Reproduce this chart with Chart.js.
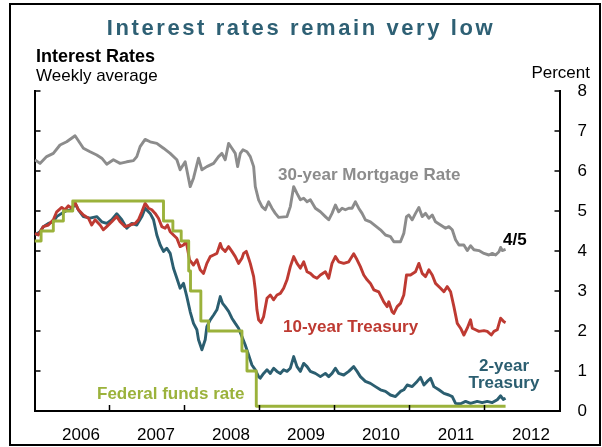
<!DOCTYPE html>
<html>
<head>
<meta charset="utf-8">
<script src="https://cdn.jsdelivr.net/npm/chart.js@4.4.1/dist/chart.umd.min.js"></script>
<style>
body { margin: 0; background: #fff; }
#wrap { position: relative; width: 602px; height: 447px; overflow: hidden; font-family: "Liberation Sans", Arial, sans-serif; }
#c { position: absolute; left: 0; top: 0; }
#frame { position: absolute; left: 9px; top: 3px; width: 588px; height: 439px; border: 2px solid #000; }
.t { position: absolute; white-space: nowrap; font-size: 17px; line-height: 17px; font-weight: bold; }
</style>
</head>
<body>
<div id="wrap">
  <canvas id="c" width="602" height="447"></canvas>
  <div id="frame"></div>
  <div class="t" style="left:0;width:602px;text-align:center;top:17px;font-size:22px;line-height:22px;letter-spacing:2.6px;color:#2E6074;">Interest rates remain very low</div>
  <div class="t" style="left:36px;top:47px;font-size:18px;line-height:18px;color:#000;">Interest Rates</div>
  <div class="t" style="left:36px;top:67px;font-weight:normal;color:#000;">Weekly average</div>
  <div class="t" style="right:12px;top:64px;font-weight:normal;color:#000;">Percent</div>
  <div class="t" style="left:278px;top:166px;color:#8C8C8C;">30-year Mortgage Rate</div>
  <div class="t" style="left:283px;top:318px;color:#BE3A32;">10-year Treasury</div>
  <div class="t" style="left:464px;width:80px;text-align:center;top:358px;line-height:16.5px;color:#2B5E70;">2-year<br>Treasury</div>
  <div class="t" style="left:97px;top:385px;color:#9BB23B;">Federal funds rate</div>
  <div class="t" style="left:503px;top:231px;color:#000;">4/5</div>
</div>
<script>
// x axis: decimal years, tick at each Jan 1, label sits inside the year
var yearTicks = [2006, 2007, 2008, 2009, 2010, 2011, 2012, 2013];
var yearLabels = ['2006', '2007', '2008', '2009', '2010', '2011', '2012', ''];
var percentTicks = [0, 1, 2, 3, 4, 5, 6, 7, 8];

// 30-year mortgage rate
var mortX = [2006.007,2006.073,2006.162,2006.251,2006.340,2006.429,2006.541,2006.652,2006.741,2006.830,
  2006.897,2006.963,2007.052,2007.141,2007.230,2007.319,2007.364,2007.408,2007.475,2007.542,
  2007.631,2007.720,2007.809,2007.898,2007.942,2008.009,2008.076,2008.120,2008.187,2008.232,
  2008.298,2008.388,2008.454,2008.499,2008.543,2008.588,2008.632,2008.677,2008.708,2008.744,
  2008.779,2008.833,2008.877,2008.922,2008.944,2008.988,2009.033,2009.077,2009.122,2009.166,
  2009.211,2009.255,2009.366,2009.411,2009.456,2009.500,2009.545,2009.589,2009.634,2009.678,
  2009.745,2009.812,2009.878,2009.923,2009.967,2010.012,2010.056,2010.101,2010.145,2010.190,
  2010.234,2010.279,2010.323,2010.368,2010.412,2010.479,2010.546,2010.613,2010.680,2010.746,
  2010.791,2010.880,2010.924,2010.960,2010.991,2011.036,2011.080,2011.125,2011.169,2011.214,
  2011.258,2011.303,2011.347,2011.414,2011.481,2011.525,2011.570,2011.614,2011.659,2011.725,
  2011.770,2011.814,2011.859,2011.926,2011.993,2012.059,2012.104,2012.148,2012.193,2012.215,
  2012.237,2012.281];
var mortY = [6.28,6.19,6.36,6.44,6.65,6.73,6.88,6.57,6.48,6.40,
  6.32,6.17,6.28,6.19,6.23,6.26,6.36,6.61,6.79,6.73,
  6.69,6.57,6.44,6.28,6.03,6.23,5.61,5.82,6.32,6.03,
  6.11,6.19,6.36,6.44,6.28,6.69,6.57,6.44,6.11,6.44,
  6.53,6.48,6.36,6.11,5.61,5.28,5.11,5.03,5.23,5.07,
  4.94,4.84,4.86,5.11,5.61,5.44,5.28,5.32,5.23,5.28,
  5.07,4.98,4.86,4.78,4.94,5.15,4.98,5.07,5.03,5.07,
  5.07,5.23,5.07,4.94,4.78,4.73,4.63,4.53,4.40,4.36,
  4.23,4.23,4.44,4.86,4.90,4.78,4.94,5.09,4.86,4.94,
  4.82,4.90,4.73,4.65,4.57,4.61,4.53,4.28,4.15,4.15,
  4.01,4.13,4.03,4.01,3.94,3.90,3.94,3.90,3.98,4.09,
  4.01,4.04];

// 10-year Treasury
var t10X = [2006.007,2006.051,2006.118,2006.185,2006.251,2006.296,2006.363,2006.407,2006.452,2006.496,
  2006.541,2006.585,2006.652,2006.719,2006.763,2006.808,2006.874,2006.919,2006.963,2007.030,
  2007.097,2007.141,2007.208,2007.275,2007.342,2007.386,2007.431,2007.475,2007.520,2007.564,
  2007.609,2007.653,2007.698,2007.742,2007.773,2007.809,2007.853,2007.898,2007.942,2007.987,
  2008.023,2008.067,2008.120,2008.165,2008.209,2008.254,2008.298,2008.343,2008.388,2008.432,
  2008.477,2008.499,2008.543,2008.588,2008.632,2008.677,2008.721,2008.766,2008.788,2008.824,
  2008.855,2008.877,2008.922,2008.944,2008.966,2008.988,2009.020,2009.055,2009.100,2009.144,
  2009.189,2009.233,2009.278,2009.322,2009.367,2009.411,2009.456,2009.500,2009.545,2009.589,
  2009.634,2009.678,2009.723,2009.767,2009.812,2009.878,2009.923,2009.967,2010.012,2010.056,
  2010.123,2010.190,2010.256,2010.301,2010.345,2010.390,2010.435,2010.479,2010.524,2010.590,
  2010.657,2010.702,2010.724,2010.768,2010.791,2010.835,2010.880,2010.924,2010.960,2011.013,
  2011.080,2011.125,2011.169,2011.214,2011.258,2011.303,2011.347,2011.414,2011.459,2011.503,
  2011.548,2011.592,2011.637,2011.681,2011.725,2011.770,2011.814,2011.837,2011.881,2011.926,
  2011.993,2012.037,2012.091,2012.126,2012.170,2012.215,2012.259,2012.281];
var t10Y = [4.44,4.40,4.61,4.65,4.78,4.98,5.09,5.03,5.13,5.07,
  5.21,5.03,4.90,4.82,4.65,4.78,4.65,4.53,4.61,4.73,
  4.86,4.73,4.61,4.65,4.69,4.78,4.98,5.19,5.07,5.03,
  4.94,4.82,4.61,4.57,4.65,4.48,4.40,4.32,4.11,4.15,
  4.23,3.78,3.65,3.78,3.53,3.44,3.69,3.86,3.90,3.94,
  4.19,4.07,3.99,4.11,3.99,3.86,3.69,3.82,3.94,3.99,
  3.82,3.69,3.36,3.03,2.53,2.28,2.21,2.36,2.82,2.90,
  2.78,2.90,2.94,3.07,3.28,3.61,3.86,3.69,3.57,3.73,
  3.48,3.44,3.36,3.32,3.40,3.48,3.32,3.69,3.86,3.73,
  3.69,3.73,3.93,3.78,3.61,3.40,3.28,3.19,3.03,2.98,
  2.73,2.61,2.73,2.48,2.44,2.61,2.69,2.90,3.40,3.40,
  3.48,3.69,3.44,3.36,3.53,3.40,3.19,3.07,2.98,3.11,
  2.98,2.61,2.19,2.07,1.90,2.07,2.28,2.07,2.03,1.99,
  2.01,1.99,1.90,1.99,2.03,2.32,2.23,2.21];

// 2-year Treasury
var t2X = [2006.007,2006.073,2006.118,2006.185,2006.251,2006.296,2006.363,2006.429,2006.496,2006.541,
  2006.585,2006.652,2006.741,2006.830,2006.897,2006.963,2007.030,2007.097,2007.164,2007.230,
  2007.297,2007.364,2007.431,2007.475,2007.542,2007.587,2007.631,2007.676,2007.720,2007.764,
  2007.809,2007.853,2007.898,2007.942,2007.987,2008.031,2008.076,2008.120,2008.165,2008.187,
  2008.232,2008.276,2008.298,2008.343,2008.388,2008.432,2008.477,2008.508,2008.543,2008.588,
  2008.632,2008.677,2008.721,2008.766,2008.810,2008.855,2008.899,2008.944,2008.988,2009.010,
  2009.055,2009.100,2009.144,2009.189,2009.233,2009.278,2009.322,2009.367,2009.411,2009.456,
  2009.500,2009.545,2009.589,2009.634,2009.678,2009.745,2009.812,2009.878,2009.923,2009.967,
  2010.012,2010.056,2010.123,2010.190,2010.256,2010.301,2010.345,2010.412,2010.479,2010.546,
  2010.613,2010.680,2010.746,2010.813,2010.880,2010.924,2010.969,2011.036,2011.102,2011.147,
  2011.192,2011.236,2011.281,2011.325,2011.392,2011.459,2011.525,2011.570,2011.614,2011.681,
  2011.748,2011.814,2011.903,2011.970,2012.037,2012.104,2012.170,2012.215,2012.250,2012.281];
var t2Y = [4.40,4.48,4.61,4.69,4.73,4.86,4.94,5.01,5.03,5.19,
  5.03,4.86,4.82,4.86,4.73,4.69,4.78,4.93,4.78,4.57,
  4.69,4.65,4.86,5.07,4.94,4.78,4.40,4.15,3.99,4.07,
  3.94,3.57,3.32,3.07,3.19,2.86,2.48,2.19,2.03,1.78,
  1.53,1.78,2.11,2.28,2.40,2.53,2.86,2.69,2.61,2.49,
  2.32,2.19,2.07,1.86,1.65,1.40,1.15,1.03,0.86,0.82,
  0.94,1.03,0.94,1.07,0.99,0.94,1.03,0.99,1.07,1.36,
  1.11,0.99,1.19,1.11,0.99,0.94,0.86,0.94,0.86,0.94,
  1.07,0.94,0.90,0.99,1.11,0.99,0.86,0.74,0.69,0.61,
  0.53,0.49,0.40,0.36,0.49,0.53,0.65,0.61,0.74,0.84,
  0.65,0.74,0.82,0.61,0.53,0.44,0.40,0.36,0.19,0.18,
  0.24,0.19,0.24,0.21,0.24,0.21,0.28,0.38,0.29,0.32];

// federal funds rate: date of each change and the new level
var ffX = [2006.000,2006.088,2006.251,2006.385,2006.510,2007.720,2007.845,2007.956,2008.056,2008.080,
  2008.218,2008.321,2008.766,2008.833,2008.957,2012.281];
var ffY = [4.25,4.50,4.75,5.00,5.25,4.75,4.50,4.25,3.50,3.00,
  2.25,2.00,1.50,1.00,0.12,0.12];

function pts(xs, ys) {
  var out = [];
  for (var i = 0; i < Math.min(xs.length, ys.length); i++) out.push({ x: xs[i], y: ys[i] });
  return out;
}

// tick marks drawn inward, like the original
var innerTicks = {
  id: 'innerTicks',
  afterDraw: function (chart) {
    var ctx = chart.ctx, a = chart.chartArea, sx = chart.scales.x, sy = chart.scales.y;
    ctx.save();
    ctx.strokeStyle = '#000';
    ctx.lineWidth = 1.5;
    ctx.beginPath();
    sy.ticks.forEach(function (t) {
      var py = sy.getPixelForValue(t.value);
      ctx.moveTo(a.left, py); ctx.lineTo(a.left + 6, py);
      ctx.moveTo(a.right - 5, py); ctx.lineTo(a.right, py);
    });
    sx.ticks.forEach(function (t) {
      if (t.value <= sx.min || t.value >= sx.max) return;
      var px = sx.getPixelForValue(t.value);
      ctx.moveTo(px, a.bottom); ctx.lineTo(px, a.bottom - 6);
    });
    ctx.stroke();
    ctx.restore();
  }
};

var lineStyle = { pointRadius: 0, borderWidth: 2.9, tension: 0, fill: false, borderJoinStyle: 'round' };

new Chart(document.getElementById('c'), {
  type: 'line',
  data: {
    datasets: [
      Object.assign({ label: 'Federal funds rate', data: pts(ffX, ffY), borderColor: '#9BB23B', stepped: true }, lineStyle),
      Object.assign({ label: '10-year Treasury', data: pts(t10X, t10Y), borderColor: '#BE3A32' }, lineStyle),
      Object.assign({ label: '2-year Treasury', data: pts(t2X, t2Y), borderColor: '#2B5E70' }, lineStyle),
      Object.assign({ label: '30-year Mortgage Rate', data: pts(mortX, mortY), borderColor: '#8C8C8C' }, lineStyle)
    ]
  },
  options: {
    responsive: false,
    animation: false,
    devicePixelRatio: 1,
    layout: { padding: { left: 34.5, top: 91, right: 0, bottom: 0 } },
    plugins: { legend: { display: false }, tooltip: { enabled: false }, title: { display: false } },
    scales: {
      x: {
        type: 'linear',
        position: 'bottom',
        min: 2006,
        max: 2013,
        afterBuildTicks: function (s) { s.ticks = yearTicks.map(function (v) { return { value: v }; }); },
        afterFit: function (s) { s.height = 36; },
        grid: { display: false, drawTicks: false },
        border: { display: true, color: '#000', width: 2 },
        ticks: {
          autoSkip: false,
          maxRotation: 0,
          labelOffset: 46.5,
          padding: 14,
          color: '#000',
          font: { family: 'Liberation Sans', size: 17 },
          callback: function (v) { var i = yearTicks.indexOf(v); return i < 0 ? '' : yearLabels[i]; }
        }
      },
      y: {
        type: 'linear',
        position: 'right',
        min: 0,
        max: 8,
        afterBuildTicks: function (s) { s.ticks = percentTicks.map(function (v) { return { value: v }; }); },
        afterFit: function (s) { s.width = 42.5; },
        grid: { display: false, drawTicks: false },
        border: { display: true, color: '#000', width: 2 },
        ticks: {
          padding: 18,
          color: '#000',
          font: { family: 'Liberation Sans', size: 17 }
        }
      },
      yLeft: {
        type: 'linear',
        position: 'left',
        min: 0,
        max: 8,
        afterFit: function (s) { s.width = 0; },
        grid: { display: false, drawTicks: false },
        border: { display: true, color: '#000', width: 2 },
        ticks: { display: false }
      }
    }
  },
  plugins: [innerTicks]
});
</script>
</body>
</html>
